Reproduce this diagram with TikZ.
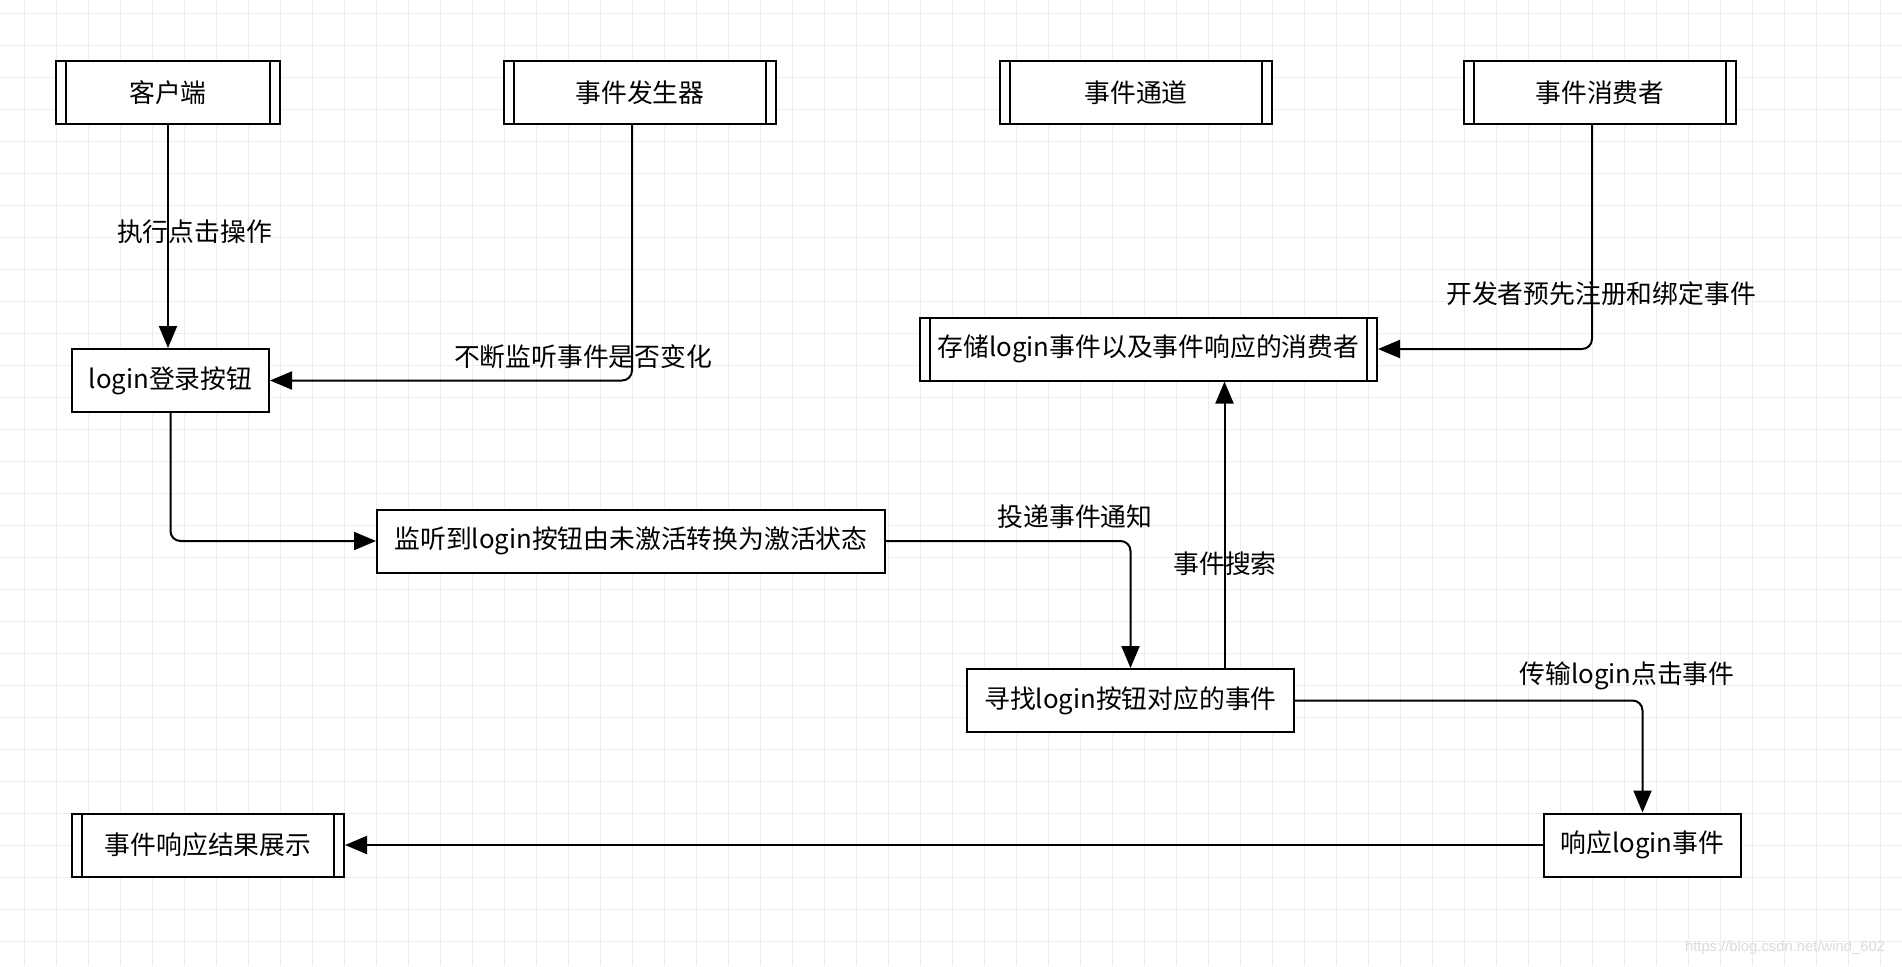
\documentclass[tikz,border=0pt]{standalone}
\usepackage{fontspec}
\setmainfont{Noto Sans CJK SC}
\newfontfamily\urlfont{Liberation Sans}
\usepackage{tikz}
\usetikzlibrary{arrows.meta}
\tikzstyle{gridline}=[draw=black!7, line width=0.5pt]
\tikzstyle{proc}=[draw, line width=1pt, fill=white, minimum height=31.5pt, inner sep=0pt, font=\fontsize{12.9}{15}\selectfont]
\tikzstyle{dproc}=[proc, path picture={
    \draw[line width=1pt] ([xshift=5pt]path picture bounding box.north west) -- ([xshift=5pt]path picture bounding box.south west);
    \draw[line width=1pt] ([xshift=-5pt]path picture bounding box.north east) -- ([xshift=-5pt]path picture bounding box.south east);}]
\tikzstyle{lbl}=[inner sep=0pt, font=\fontsize{12.9}{15}\selectfont]
\tikzstyle{arrow}=[draw=black, line width=1pt, -{Triangle[length=11pt, width=9pt]}, rounded corners=5pt]

\begin{document}
\begin{tikzpicture}[x=0.5pt, y=-0.5pt]
		   \useasboundingbox (0,0) rectangle (1902,966);
		   \fill[white] (0,0) rectangle (1902,966);
		   \foreach \x in {24,56,...,1902} \draw[gridline] (\x,0) -- (\x,966);
		   \foreach \y in {13,45,...,966} \draw[gridline] (0,\y) -- (1902,\y);

		   \begin{scope}
			   \node (cl) at (168, 92.5)[dproc, minimum width=112pt] {客户端};
			   \node (gen) at (640, 92.5)[dproc, minimum width=136pt] {事件发生器};
			   \node (chan) at (1136, 92.5)[dproc, minimum width=136pt] {事件通道};
			   \node (cons) at (1600, 92.5)[dproc, minimum width=136pt] {事件消费者};

			   \node (btn) at (170.5, 380.5)[proc, minimum width=98.5pt] {login登录按钮};
			   \node (store) at (1148.5, 349)[dproc, minimum width=228.5pt] {存储login事件以及事件响应的消费者};
			   \node (lis) at (631, 541)[proc, minimum width=254pt] {监听到login按钮由未激活转换为激活状态};
			   \node (find) at (1130.5, 700.5)[proc, minimum width=163.5pt] {寻找login按钮对应的事件};
			   \node (resp) at (1642.5, 845)[proc, minimum width=98.5pt] {响应login事件};
			   \node (show) at (208, 845)[dproc, minimum width=136pt] {事件响应结果展示};

			   \node (l1) at (194.5, 231.7)[lbl] {执行点击操作};
			   \node (l2) at (583, 356.6)[lbl] {不断监听事件是否变化};
			   \node (l3) at (1601, 293.5)[lbl] {开发者预先注册和绑定事件};
			   \node (l4) at (1075, 516.7)[lbl] {投递事件通知};
			   \node (l5) at (1225, 564)[lbl] {事件搜索};
			   \node (l6) at (1627, 675.6)[lbl] {传输login点击事件};

			   \node (wm) at (1785, 948)[inner sep=0pt, text=black!14, font=\urlfont\fontsize{7.4}{9}\selectfont] {https://blog.csdn.net/wind\_602};
		   \end{scope}
		   \begin{scope}
			   \draw [arrow] (cl.south) -- (cl.south |- btn.north);
			   \draw [arrow] ([xshift=-4pt]gen.south) |- (btn.east);
			   \draw [arrow] (btn.south) |- (lis.west);
			   \draw [arrow] (lis.east) -| (find.north);
			   \draw [arrow] ([xshift=47pt]find.north) -- ([xshift=47pt]find.north |- store.south);
			   \draw [arrow] ([xshift=-4pt]cons.south) |- (store.east);
			   \draw [arrow] (find.east) -| (resp.north);
			   \draw [arrow] (resp.west) -- (show.east);
		   \end{scope}
	   \end{tikzpicture}
\end{document}
